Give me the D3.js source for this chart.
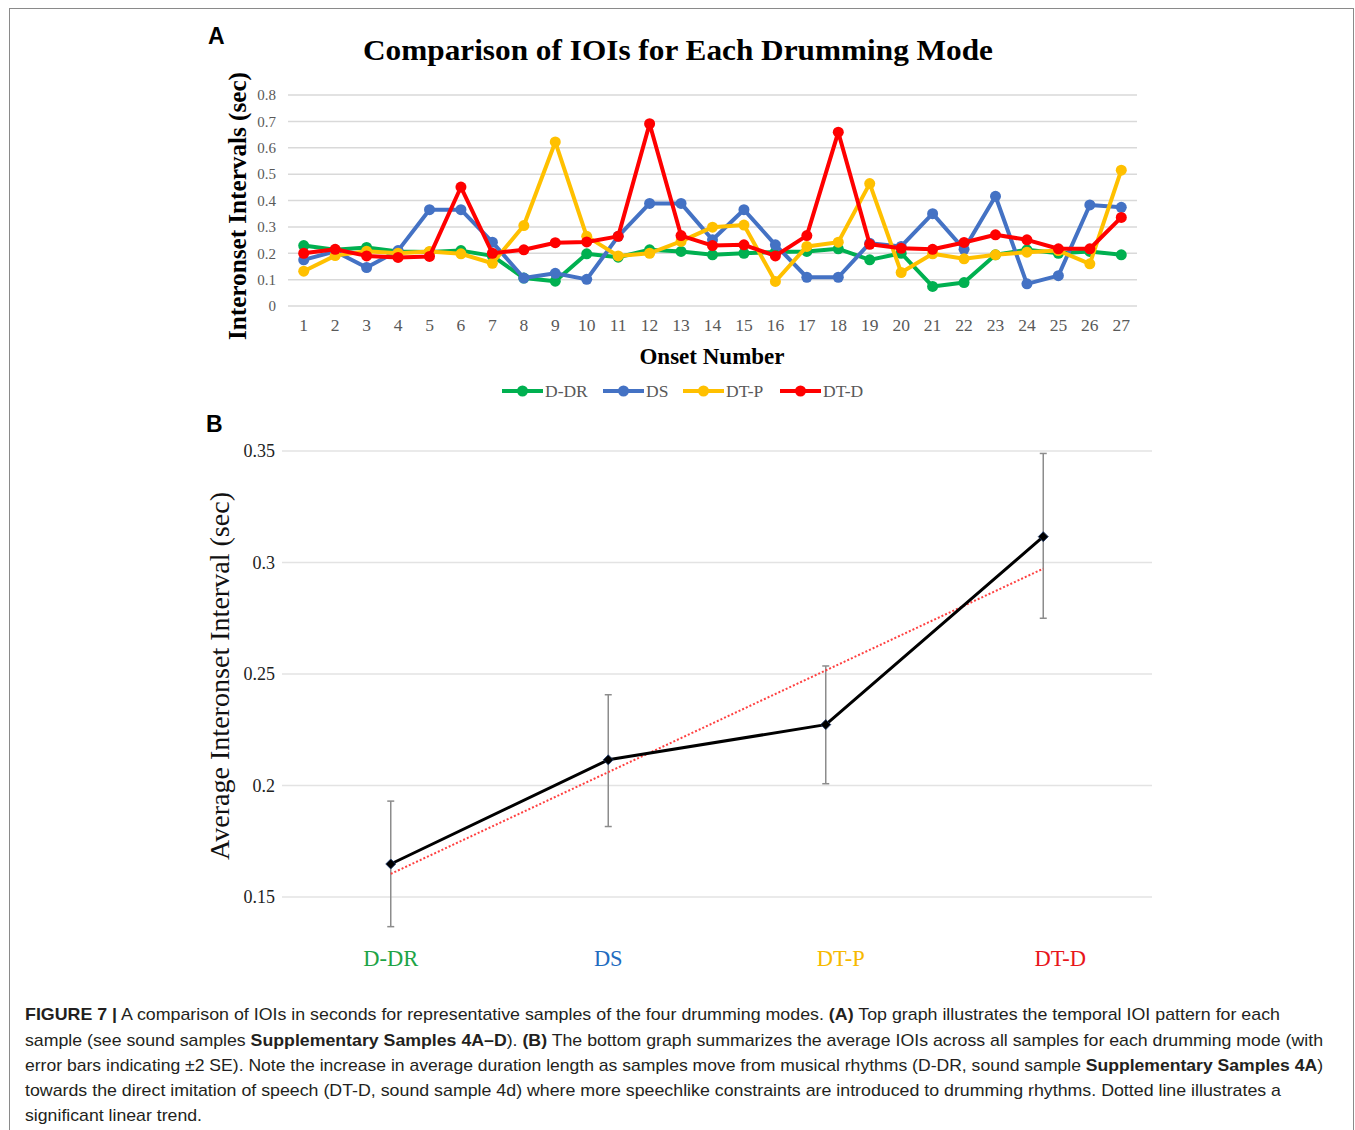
<!DOCTYPE html>
<html><head><meta charset="utf-8">
<script src="https://cdn.jsdelivr.net/npm/d3@7"></script>
<style>body{margin:0;background:#fff}svg{display:block}</style>
</head><body>
<script>
// ---------- DATA ----------
const onsets = d3.range(1, 28).map(String);
const seriesNames = ["D-DR", "DS", "DT-P", "DT-D"];
const seriesColors = ["#00b050", "#4472c4", "#ffc000", "#ff0000"];
const dDR = [0.229,0.213,0.222,0.207,0.205,0.210,0.190,0.106,0.094,0.198,0.185,0.213,0.207,0.194,0.200,0.205,0.207,0.217,0.175,0.200,0.074,0.089,0.194,0.213,0.200,0.207,0.194];
const dS  = [0.175,0.207,0.146,0.210,0.365,0.365,0.242,0.106,0.124,0.101,0.264,0.389,0.389,0.251,0.365,0.232,0.109,0.109,0.238,0.226,0.350,0.215,0.416,0.084,0.115,0.383,0.374];
const dTP = [0.132,0.191,0.208,0.200,0.207,0.198,0.162,0.305,0.622,0.264,0.190,0.200,0.245,0.299,0.307,0.093,0.226,0.242,0.464,0.127,0.198,0.179,0.194,0.204,0.210,0.160,0.515];
const dTD = [0.200,0.215,0.190,0.184,0.188,0.451,0.200,0.213,0.240,0.243,0.264,0.691,0.267,0.229,0.232,0.190,0.267,0.659,0.234,0.219,0.215,0.241,0.270,0.251,0.217,0.217,0.336];
const topTicks = [0,0.1,0.2,0.3,0.4,0.5,0.6,0.7,0.8];
const topTickLabels = ["0","0.1","0.2","0.3","0.4","0.5","0.6","0.7","0.8"];

const modes = ["D-DR", "DS", "DT-P", "DT-D"];
const modeColors = ["#1ea446", "#1f6cc0", "#f7b900", "#e8161b"];
const modeMeans = [0.1648, 0.2115, 0.2273, 0.3116];
const modeErrLow = [0.1367, 0.1816, 0.2008, 0.2750];
const modeErrHigh = [0.1930, 0.2407, 0.2536, 0.3489];
const bottomTicks = [0.15, 0.2, 0.25, 0.3, 0.35];
const bottomTickLabels = ["0.15","0.2","0.25","0.3","0.35"];

const captionLines = [
  [["b","FIGURE 7 |"],["n"," A comparison of IOIs in seconds for representative samples of the four drumming modes. "],["b","(A)"],["n"," Top graph illustrates the temporal IOI pattern for each"]],
  [["n","sample (see sound samples "],["b","Supplementary Samples 4A–D"],["n","). "],["b","(B)"],["n"," The bottom graph summarizes the average IOIs across all samples for each drumming mode (with"]],
  [["n","error bars indicating ±2 SE). Note the increase in average duration length as samples move from musical rhythms (D-DR, sound sample "],["b","Supplementary Samples 4A"],["n",")"]],
  [["n","towards the direct imitation of speech (DT-D, sound sample 4d) where more speechlike constraints are introduced to drumming rhythms. Dotted line illustrates a"]],
  [["n","significant linear trend."]]
];

// ---------- STYLE / LAYOUT ----------
const captionWidths = [1255, 1298, 1298, 1256, 177];
const modeLabelDx = [0, 0, 15, 17];

const W = 1355, H = 1130;
const svg = d3.select("body").append("svg").attr("width", W).attr("height", H);
const serif = "'Liberation Serif','Times New Roman',serif";
const sans = "'Liberation Sans',Arial,sans-serif";

svg.append("rect").attr("x", 9.5).attr("y", 8.5).attr("width", 1344).attr("height", 1200)
  .attr("fill", "#fff").attr("stroke", "#8a8a8a").attr("stroke-width", 1);

// ---------- TOP CHART ----------
const x1 = d3.scaleBand().domain(onsets).range([288, 1137]);
const y1 = d3.scaleLinear().domain([0, 0.8]).range([306, 95]);

svg.append("g").selectAll("line").data(topTicks).join("line")
  .attr("x1", 288).attr("x2", 1137).attr("y1", d => y1(d)).attr("y2", d => y1(d))
  .attr("stroke", "#d9d9d9").attr("stroke-width", 1.5);

const yAx1 = svg.append("g").attr("transform", "translate(288,0)")
  .call(d3.axisLeft(y1).tickValues(topTicks).tickFormat((d, i) => topTickLabels[i]).tickSize(0).tickPadding(12));
yAx1.select(".domain").remove();
yAx1.selectAll("text").attr("font-family", serif).attr("font-size", 15).attr("fill", "#595959");

const xAx1 = svg.append("g").attr("transform", "translate(0,319)")
  .call(d3.axisBottom(x1).tickSize(0).tickPadding(0));
xAx1.select(".domain").remove();
xAx1.selectAll("text").attr("font-family", serif).attr("font-size", 17.5).attr("fill", "#595959");

const allSeries = [dDR, dS, dTP, dTD];
const line1 = d3.line().x((d, i) => x1(onsets[i]) + x1.bandwidth() / 2).y(d => y1(d));
allSeries.forEach((s, k) => {
  const g = svg.append("g");
  g.append("path").datum(s).attr("d", line1).attr("fill", "none")
    .attr("stroke", seriesColors[k]).attr("stroke-width", 4).attr("stroke-linejoin", "round");
  g.selectAll("circle").data(s).join("circle")
    .attr("cx", (d, i) => x1(onsets[i]) + x1.bandwidth() / 2).attr("cy", d => y1(d))
    .attr("r", 5.5).attr("fill", seriesColors[k]);
});

svg.append("text").attr("x", 678).attr("y", 60).attr("text-anchor", "middle")
  .attr("font-family", serif).attr("font-weight", "bold").attr("font-size", 29)
  .attr("textLength", 630).attr("lengthAdjust", "spacingAndGlyphs")
  .text("Comparison of IOIs for Each Drumming Mode");

svg.append("text").attr("transform", "translate(246,206) rotate(-90)").attr("text-anchor", "middle")
  .attr("font-family", serif).attr("font-weight", "bold").attr("font-size", 25)
  .attr("textLength", 268).attr("lengthAdjust", "spacingAndGlyphs")
  .text("Interonset Intervals (sec)");

svg.append("text").attr("x", 712).attr("y", 364).attr("text-anchor", "middle")
  .attr("font-family", serif).attr("font-weight", "bold").attr("font-size", 23)
  .text("Onset Number");

// legend
const legX = [502, 603, 683, 780];
seriesNames.forEach((n, k) => {
  const g = svg.append("g").attr("transform", `translate(${legX[k]},391)`);
  g.append("line").attr("x1", 0).attr("x2", 41).attr("stroke", seriesColors[k]).attr("stroke-width", 4);
  g.append("circle").attr("cx", 20.5).attr("r", 5.5).attr("fill", seriesColors[k]);
  g.append("text").attr("x", 43).attr("y", 5.5).attr("font-family", serif).attr("font-size", 17.5)
    .attr("fill", "#595959").text(n);
});

svg.append("text").attr("x", 208).attr("y", 44).attr("font-family", sans).attr("font-weight", "bold")
  .attr("font-size", 23).text("A");

// ---------- BOTTOM CHART ----------
svg.append("text").attr("x", 206).attr("y", 432).attr("font-family", sans).attr("font-weight", "bold")
  .attr("font-size", 23).text("B");

const x2 = d3.scaleBand().domain(modes).range([282, 1152]);
const y2 = d3.scaleLinear().domain([0.15, 0.35]).range([897, 451]);
const cx2 = m => x2(m) + x2.bandwidth() / 2;

svg.append("g").selectAll("line").data(bottomTicks).join("line")
  .attr("x1", 282).attr("x2", 1152).attr("y1", d => y2(d)).attr("y2", d => y2(d))
  .attr("stroke", "#e3e3e3").attr("stroke-width", 1.5);

const yAx2 = svg.append("g").attr("transform", "translate(282,0)")
  .call(d3.axisLeft(y2).tickValues(bottomTicks).tickFormat((d, i) => bottomTickLabels[i]).tickSize(0).tickPadding(7));
yAx2.select(".domain").remove();
yAx2.selectAll("text").attr("font-family", serif).attr("font-size", 18).attr("fill", "#222");

const xAx2 = svg.append("g").attr("transform", "translate(0,950)")
  .call(d3.axisBottom(x2).tickSize(0).tickPadding(0));
xAx2.select(".domain").remove();
xAx2.selectAll("text").attr("font-family", serif).attr("font-size", 22.5)
  .attr("dx", (d, i) => modeLabelDx[i])
  .attr("fill", (d, i) => modeColors[i]);

svg.append("text").attr("transform", "translate(229,676) rotate(-90)").attr("text-anchor", "middle")
  .attr("font-family", serif).attr("font-size", 28).attr("fill", "#111")
  .attr("textLength", 368).attr("lengthAdjust", "spacingAndGlyphs")
  .text("Average Interonset Interval (sec)");

// error bars
const eb = svg.append("g").attr("stroke", "#8c8c8c").attr("stroke-width", 1.5);
modes.forEach((m, i) => {
  eb.append("line").attr("x1", cx2(m)).attr("x2", cx2(m)).attr("y1", y2(modeErrLow[i])).attr("y2", y2(modeErrHigh[i]));
  eb.append("line").attr("x1", cx2(m) - 3.5).attr("x2", cx2(m) + 3.5).attr("y1", y2(modeErrLow[i])).attr("y2", y2(modeErrLow[i]));
  eb.append("line").attr("x1", cx2(m) - 3.5).attr("x2", cx2(m) + 3.5).attr("y1", y2(modeErrHigh[i])).attr("y2", y2(modeErrHigh[i]));
});

// linear trend (least squares over mode means)
const xs = modes.map((m, i) => i + 1);
const mx = d3.mean(xs), my = d3.mean(modeMeans);
const slope = d3.sum(xs, (xv, i) => (xv - mx) * (modeMeans[i] - my)) / d3.sum(xs, xv => (xv - mx) ** 2);
const icpt = my - slope * mx;
svg.append("line")
  .attr("x1", cx2(modes[0])).attr("y1", y2(icpt + slope * 1))
  .attr("x2", cx2(modes[3])).attr("y2", y2(icpt + slope * 4))
  .attr("stroke", "#ff4040").attr("stroke-width", 2).attr("stroke-dasharray", "2,2");

const line2 = d3.line().x((d, i) => cx2(modes[i])).y(d => y2(d));
svg.append("path").datum(modeMeans).attr("d", line2).attr("fill", "none")
  .attr("stroke", "#000").attr("stroke-width", 3).attr("stroke-linejoin", "round");
svg.append("g").selectAll("path").data(modeMeans).join("path")
  .attr("d", d3.symbol(d3.symbolSquare, 50)())
  .attr("transform", (d, i) => `translate(${cx2(modes[i])},${y2(d)}) rotate(45)`)
  .attr("fill", "#000").attr("stroke", "#1f3a6b").attr("stroke-width", 0.8);

// ---------- CAPTION ----------
const capY = [1020, 1046, 1071, 1096, 1121];
captionLines.forEach((parts, li) => {
  const t = svg.append("text").attr("x", 25).attr("y", capY[li])
    .attr("font-family", sans).attr("font-size", 17).attr("fill", "#231f20")
    .attr("textLength", captionWidths[li]).attr("lengthAdjust", "spacingAndGlyphs");
  parts.forEach(([k, s]) => {
    t.append("tspan").attr("font-weight", k === "b" ? "bold" : "normal").text(s);
  });
});
</script>
</body></html>
